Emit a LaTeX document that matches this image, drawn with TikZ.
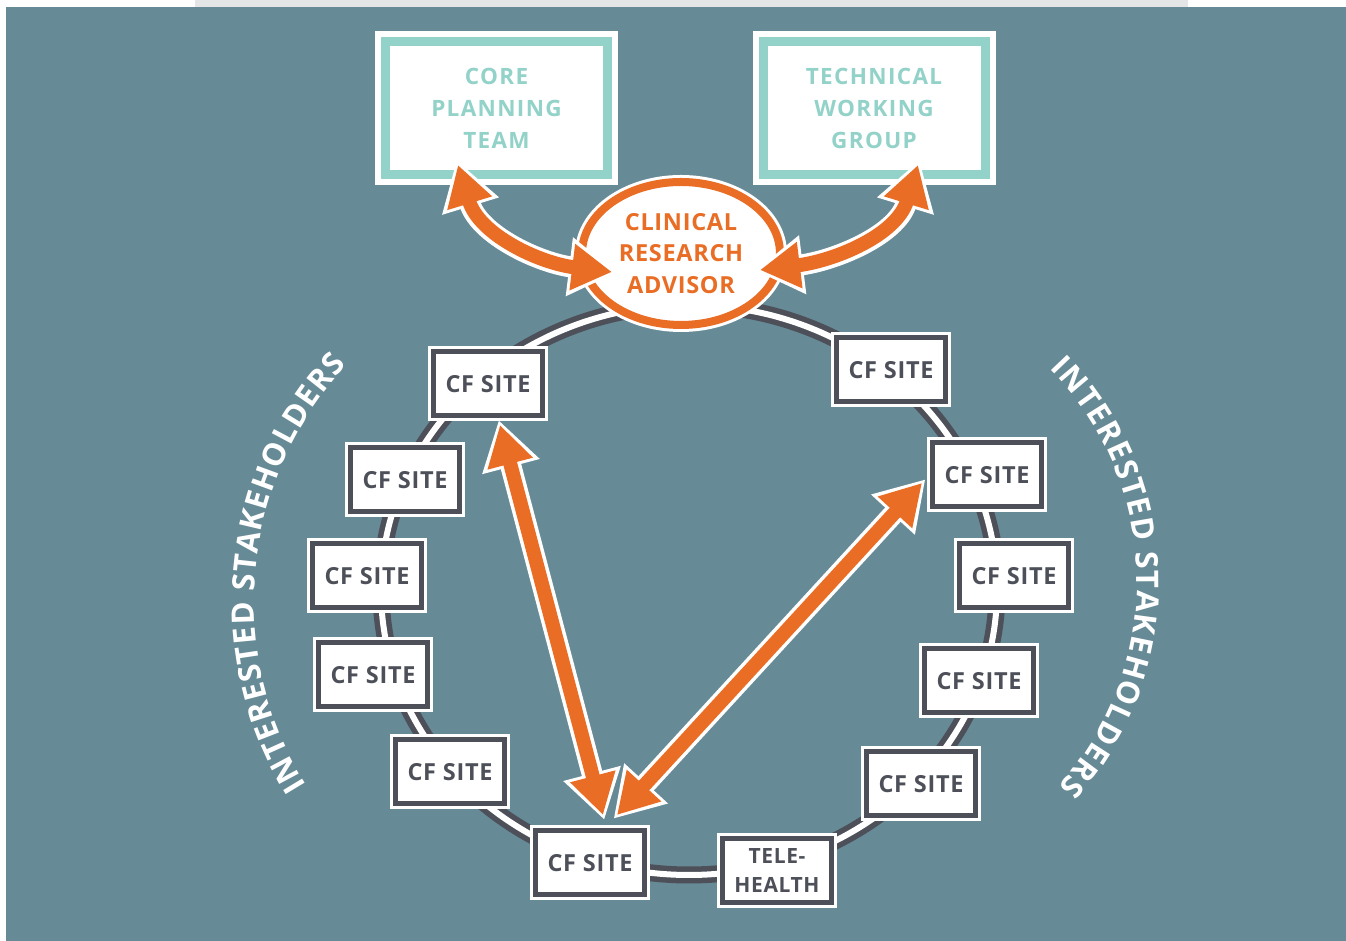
\documentclass[tikz,border=0pt]{standalone}
\usepackage{fontspec}
\setmainfont{Open Sans}
\newfontfamily\teamfont{Open Sans}[LetterSpace=6]
\newfontfamily\sitefont{Open Sans}[LetterSpace=3]
\usetikzlibrary{arrows.meta,shapes.geometric,decorations.text}
\definecolor{cfblue}{RGB}{102,138,150}
\definecolor{cfgrey}{RGB}{228,229,231}
\definecolor{cforange}{RGB}{233,109,36}
\definecolor{cfteal}{RGB}{146,210,200}
\definecolor{cfdark}{RGB}{77,80,89}
\begin{document}
\begin{tikzpicture}[x=1pt,y=1pt,
  site/.style={draw=cfdark,line width=5pt,fill=white,minimum width=109pt,minimum height=64pt,inner sep=0pt,
    align=center,text=cfdark,font=\sitefont\bfseries\fontsize{23.5}{29}\selectfont,preaction={draw=white,line width=11pt}},
  team/.style={draw=cfteal,line width=9pt,fill=white,minimum width=222pt,minimum height=133pt,inner sep=0pt,
    align=center,text=cfteal,font=\teamfont\bfseries\fontsize{22.5}{32}\selectfont,preaction={draw=white,line width=21pt}},
  advisor/.style={ellipse,draw=cforange,line width=8pt,fill=white,minimum width=198pt,minimum height=143pt,inner sep=0pt,
    align=center,text=cforange,font=\sitefont\bfseries\fontsize{23.5}{31.5}\selectfont,preaction={draw=white,line width=14pt}},
  ring/.style={draw=cfdark,line width=17pt,postaction={draw=white,line width=6pt}},
  link/.style={draw=cforange,line width=14pt,{Triangle[width=44pt,length=40pt]}-{Triangle[width=44pt,length=40pt]},
    preaction={draw=white,line width=21pt,{Triangle[width=56pt,length=48pt]}-{Triangle[width=56pt,length=48pt]},shorten <=-5pt,shorten >=-5pt}},
  stake/.style={decorate,decoration={text along path,text align={fit to path},text color=white,
    text={|\bfseries\fontsize{31}{31}\selectfont|INTERESTED STAKEHOLDERS}}}]
\useasboundingbox (0,0) rectangle (1346,941);
\fill[white] (0,0) rectangle (1346,941);
\fill[cfblue] (6,0) rectangle (1346,934);
\fill[cfgrey] (195,934) rectangle (1188,941);
% ring of sites
\draw[ring] (689,351) ellipse[x radius=308pt,y radius=285pt];
\foreach \n/\x/\y in {s1/488/557,s2/405/461,s3/367/365,s4/373/266,s5/450/169,s6/590/78,
  s8/921/157,s9/979/260,s10/1014/365,s11/987/466,s12/891/571}
  \node[site] (\n) at (\x,\y) {CF SITE};
\node[site,font=\sitefont\bfseries\fontsize{21}{29}\selectfont] (tele) at (777,70) {TELE-\\HEALTH};
% top
\node[team] (core) at (496.5,833) {CORE\\PLANNING\\TEAM};
\node[team] (twg) at (874,833) {TECHNICAL\\WORKING\\GROUP};
\node[advisor] (cra) at (681,687.5) {CLINICAL\\RESEARCH\\ADVISOR};
% arrows
\draw[link] ([xshift=-38.5pt,yshift=14pt]core.south) to[out=-73,in=173] ([xshift=34pt,yshift=-18.5pt]cra.west);
\draw[link] ([xshift=44pt,yshift=14pt]twg.south) to[out=-107,in=7] ([xshift=-24pt,yshift=-16.5pt]cra.east);
\draw[link] ([xshift=12pt,yshift=-6.5pt]s1.south) -- ([xshift=13pt,yshift=13.5pt]s6.north);
\draw[link] ([xshift=-8pt,yshift=-8pt]s11.west) -- ([xshift=27pt,yshift=13.5pt]s6.north);
% curved labels
\coordinate (cL) at (601,339);
\coordinate (cR) at (832,359);
\path[stake] (cL) ++(212:347pt) arc[start angle=212,end angle=137,radius=347pt];
\path[stake] (cR) ++(44.5:305pt) arc[start angle=44.5,end angle=-42,radius=305pt];
\end{tikzpicture}
\end{document}
